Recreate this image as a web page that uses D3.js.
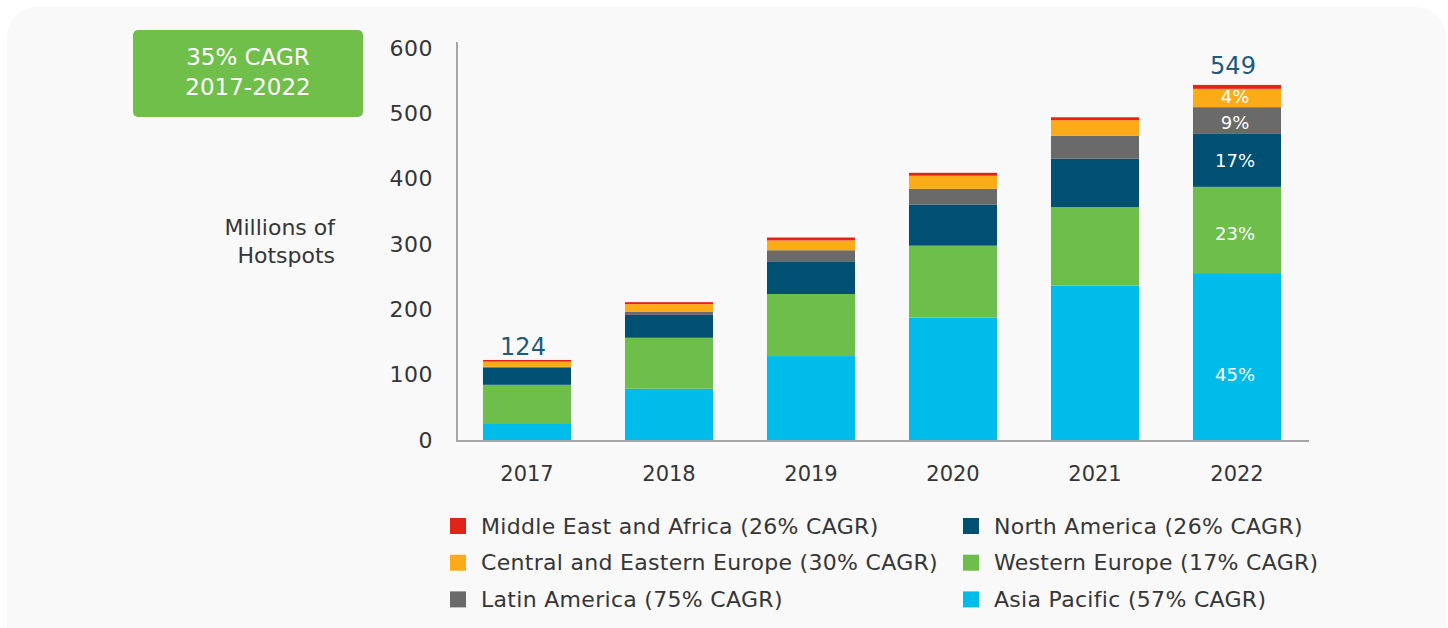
<!DOCTYPE html>
<html>
<head>
<meta charset="utf-8">
<script src="https://cdn.jsdelivr.net/npm/d3@7"></script>
<style>
  html, body { margin: 0; padding: 0; background: #ffffff; }
  svg { display: block; font-family: "DejaVu Sans", sans-serif; }
</style>
</head>
<body>
<div id="chart"></div>
<script>
// data (millions of hotspots)
const years = ['2017', '2018', '2019', '2020', '2021', '2022'];
const asiaPacific = [26, 80, 130, 189, 238, 257];
const westernEurope = [60, 78, 95, 110, 120, 132];
const northAmerica = [26, 35, 50, 63, 74, 81];
const latinAmerica = [1.5, 4.5, 17, 24, 35, 41];
const centralEasternEurope = [8, 12, 15, 20, 24, 28];
const middleEastAfrica = [2.5, 3, 4.5, 4.5, 4.5, 6];
const totalLabels = ['124', '', '', '', '', '549'];
const shares2022 = ['45%', '23%', '17%', '9%', '4%', ''];
const yTicks = [0, 100, 200, 300, 400, 500, 600];

const seriesNames = [
  'Asia Pacific (57% CAGR)',
  'Western Europe (17% CAGR)',
  'North America (26% CAGR)',
  'Latin America (75% CAGR)',
  'Central and Eastern Europe (30% CAGR)',
  'Middle East and Africa (26% CAGR)'
];
const seriesValues = [asiaPacific, westernEurope, northAmerica, latinAmerica, centralEasternEurope, middleEastAfrica];
const colors = ['#00bceb', '#6dbe4b', '#005073', '#6a6a6a', '#fbab18', '#e2231a'];
// legend layout: two columns, top to bottom
const legendCols = [[5, 4, 3], [2, 1, 0]];

const width = 1448;
const height = 628;
const textColor = '#353535';

const svg = d3.select('#chart')
  .append('svg')
  .attr('width', width)
  .attr('height', height);

// panel
svg.append('rect')
  .attr('x', 7)
  .attr('y', 7)
  .attr('width', 1439)
  .attr('height', 650)
  .attr('rx', 30)
  .style('fill', '#f9f9f9');

// build rows for stacking
const keys = seriesNames.map((d, i) => 'k' + i);
const rows = years.map((yr, j) => {
  const r = { year: yr };
  keys.forEach((k, i) => { r[k] = seriesValues[i][j]; });
  return r;
});
const stacked = d3.stack().keys(keys)(rows);

const x = d3.scaleBand()
  .domain(years)
  .range([456, 1308])
  .paddingInner(0.38)
  .paddingOuter(0.19);

const y = d3.scaleLinear()
  .domain([0, 600])
  .range([441, 49]);

// bars
svg.selectAll('g.layer')
  .data(stacked)
  .join('g')
  .attr('class', 'layer')
  .style('fill', (d, i) => colors[i])
  .selectAll('rect')
  .data(d => d)
  .join('rect')
  .attr('x', d => x(d.data.year))
  .attr('width', x.bandwidth())
  .attr('y', d => y(d[1]))
  .attr('height', d => y(d[0]) - y(d[1]));

// axes lines
svg.append('line')
  .attr('x1', 457).attr('x2', 457)
  .attr('y1', 42).attr('y2', 442)
  .style('stroke', '#a6a6a6')
  .style('stroke-width', 2);
svg.append('line')
  .attr('x1', 456).attr('x2', 1309)
  .attr('y1', 441).attr('y2', 441)
  .style('stroke', '#a6a6a6')
  .style('stroke-width', 2);

// y axis tick labels
const yAxis = svg.append('g')
  .attr('transform', 'translate(433,0)')
  .call(d3.axisLeft(y).tickValues(yTicks).tickSize(0).tickPadding(0));
yAxis.select('.domain').remove();
yAxis.selectAll('text')
  .style('font-size', '22px')
  .style('font-family', '"DejaVu Sans", sans-serif')
  .style('letter-spacing', '0.5px')
  .style('fill', textColor)
  .attr('dy', '0.28em');

// x axis labels
const xAxis = svg.append('g')
  .attr('transform', 'translate(0,441)')
  .call(d3.axisBottom(x).tickSize(0).tickPadding(25));
xAxis.select('.domain').remove();
xAxis.selectAll('text')
  .style('font-size', '21px')
  .style('font-family', '"DejaVu Sans", sans-serif')
  .style('fill', textColor);

// y title
const yTitle = svg.append('text')
  .attr('text-anchor', 'end')
  .style('font-size', '22px')
  .style('fill', textColor);
yTitle.append('tspan').attr('x', 335).attr('y', 235).text('Millions of');
yTitle.append('tspan').attr('x', 335).attr('y', 263).text('Hotspots');

// totals
const topLayer = stacked[stacked.length - 1];
svg.selectAll('text.total')
  .data(topLayer)
  .join('text')
  .attr('class', 'total')
  .attr('x', d => x(d.data.year) + x.bandwidth() / 2 - 4)
  .attr('y', (d, i) => y(d[1]) - (i === 0 ? 5 : 11))
  .attr('text-anchor', 'middle')
  .style('font-size', '24px')
  .style('fill', '#1d5a7e')
  .text((d, i) => totalLabels[i]);

// shares on 2022 bar
const last = years.length - 1;
const shareShift = [18, 4, 0, 2, -1, 0];
svg.selectAll('text.share')
  .data(stacked.map(s => s[last]))
  .join('text')
  .attr('class', 'share')
  .attr('x', x(years[last]) + x.bandwidth() / 2 - 2)
  .attr('y', (d, i) => (y(d[0]) + y(d[1])) / 2 + shareShift[i])
  .attr('dy', '0.35em')
  .attr('text-anchor', 'middle')
  .style('font-size', '18px')
  .style('fill', '#ffffff')
  .text((d, i) => shares2022[i]);

// CAGR box
svg.append('rect')
  .attr('x', 133)
  .attr('y', 30)
  .attr('width', 230)
  .attr('height', 87)
  .attr('rx', 5)
  .style('fill', '#70bf4a');
const cagr = svg.append('text')
  .attr('text-anchor', 'middle')
  .style('font-size', '23px')
  .style('fill', '#ffffff');
cagr.append('tspan').attr('x', 248).attr('y', 65).text('35% CAGR');
cagr.append('tspan').attr('x', 248).attr('y', 95).text('2017-2022');

// legend
const colX = [450, 963];
legendCols.forEach((col, c) => {
  col.forEach((si, r) => {
    const cy = 526 + r * 36.7;
    svg.append('rect')
      .attr('x', colX[c])
      .attr('y', cy - 8)
      .attr('width', 16)
      .attr('height', 16)
      .style('fill', colors[si]);
    svg.append('text')
      .attr('x', colX[c] + 31)
      .attr('y', cy)
      .attr('dy', '0.35em')
      .style('font-size', '22px')
      .style('letter-spacing', '0.3px')
      .style('fill', textColor)
      .text(seriesNames[si]);
  });
});
</script>
</body>
</html>
